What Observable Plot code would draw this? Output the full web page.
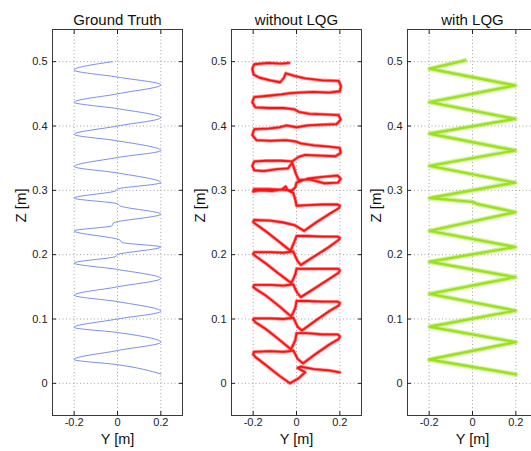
<!DOCTYPE html>
<html><head><meta charset="utf-8">
<script src="https://cdn.jsdelivr.net/npm/d3@7"></script>
<script src="https://cdn.jsdelivr.net/npm/@observablehq/plot@0.6"></script>
<style>
html,body{margin:0;padding:0;background:#fff;overflow:hidden;}
#wrap{position:relative;width:531px;height:451px;overflow:hidden;background:#fff;}
.panel{position:absolute;top:0;}
</style></head><body><div id="wrap"></div>
<script>
const titles = ["Ground Truth", "without LQG", "with LQG"];
const xTicks = [-0.2, 0, 0.2];
const zTicks = [0, 0.1, 0.2, 0.3, 0.4, 0.5];
const xLabel = "Y [m]";
const zLabel = "Z [m]";

// Ground truth trajectory [Y, Z]
const gtPath = [
  [0.200, 0.0145], [0.000, 0.029], [-0.200, 0.037], [0.000, 0.051], [0.200, 0.064],
  [0.000, 0.079], [-0.200, 0.087], [0.000, 0.100], [0.200, 0.112], [0.000, 0.127],
  [-0.200, 0.137], [0.000, 0.150], [0.200, 0.163], [0.000, 0.177], [-0.200, 0.187],
  [-0.010, 0.197], [0.000, 0.200], [0.200, 0.212], [0.020, 0.219], [0.010, 0.223],
  [-0.200, 0.237], [-0.025, 0.245], [-0.020, 0.249], [0.200, 0.263], [0.010, 0.276],
  [0.000, 0.279], [-0.200, 0.288], [-0.010, 0.299], [0.000, 0.302], [0.200, 0.312],
  [0.000, 0.327], [-0.200, 0.337], [0.000, 0.351], [0.200, 0.362], [0.000, 0.377],
  [-0.200, 0.387], [0.000, 0.400], [0.200, 0.413], [0.000, 0.427], [-0.200, 0.437],
  [0.000, 0.450], [0.200, 0.464], [0.000, 0.476], [-0.200, 0.487], [-0.023, 0.500]
];

// Measured trajectory without LQG [Y, Z]
const noLqgPath = [
  [0.200, 0.017], [0.150, 0.020], [0.080, 0.022], [0.020, 0.026], [0.005, 0.024], [0.040, 0.017], [0.010, 0.008], [-0.030, 0.000],
  [-0.080, 0.012], [-0.140, 0.028], [-0.190, 0.041], [-0.200, 0.045],
  [-0.196, 0.049], [-0.120, 0.050], [-0.060, 0.049], [-0.015, 0.051],
  [-0.005, 0.045], [0.005, 0.038], [0.030, 0.031],
  [0.090, 0.046], [0.150, 0.060], [0.195, 0.069], [0.200, 0.073],
  [0.190, 0.076], [0.120, 0.076], [0.050, 0.078], [0.000, 0.078],
  [-0.005, 0.068], [-0.015, 0.060], [-0.026, 0.053],
  [-0.080, 0.068], [-0.140, 0.084], [-0.190, 0.095], [-0.200, 0.099],
  [-0.195, 0.101], [-0.120, 0.101], [-0.060, 0.100], [-0.015, 0.102],
  [-0.005, 0.095], [0.005, 0.088], [0.025, 0.082],
  [0.090, 0.098], [0.150, 0.112], [0.195, 0.121], [0.200, 0.125],
  [0.190, 0.127], [0.120, 0.127], [0.050, 0.128], [0.000, 0.128],
  [-0.005, 0.118], [-0.015, 0.110], [-0.025, 0.104],
  [-0.080, 0.120], [-0.140, 0.136], [-0.190, 0.147], [-0.200, 0.150],
  [-0.195, 0.153], [-0.120, 0.153], [-0.060, 0.152], [-0.015, 0.154],
  [-0.005, 0.146], [0.005, 0.140], [0.020, 0.134],
  [0.090, 0.149], [0.150, 0.162], [0.195, 0.172], [0.200, 0.176],
  [0.190, 0.178], [0.120, 0.178], [0.050, 0.178], [0.000, 0.178],
  [-0.005, 0.170], [-0.015, 0.162], [-0.025, 0.156],
  [-0.080, 0.170], [-0.140, 0.186], [-0.190, 0.198], [-0.200, 0.201],
  [-0.195, 0.204], [-0.120, 0.204], [-0.060, 0.203], [-0.015, 0.205],
  [-0.005, 0.197], [0.005, 0.190], [0.020, 0.184],
  [0.090, 0.199], [0.150, 0.212], [0.195, 0.223], [0.200, 0.226],
  [0.190, 0.228], [0.120, 0.228], [0.050, 0.229], [0.000, 0.229],
  [-0.010, 0.220], [-0.020, 0.212], [-0.028, 0.206],
  [-0.080, 0.220], [-0.140, 0.236], [-0.190, 0.248], [-0.200, 0.251],
  [-0.195, 0.254], [-0.120, 0.253], [-0.060, 0.250], [-0.010, 0.246], [0.035, 0.237],
  [0.090, 0.250], [0.150, 0.263], [0.195, 0.272], [0.200, 0.276],
  [0.190, 0.278], [0.120, 0.278], [0.050, 0.277], [0.000, 0.276],
  [-0.005, 0.285], [-0.015, 0.296],
  [-0.040, 0.300], [-0.050, 0.306], [-0.065, 0.302], [-0.110, 0.299], [-0.170, 0.300], [-0.200, 0.298],
  [-0.196, 0.302], [-0.130, 0.302], [-0.070, 0.301], [-0.020, 0.300],
  [-0.005, 0.305], [0.000, 0.312],
  [0.050, 0.318], [0.120, 0.321], [0.190, 0.323], [0.204, 0.318], [0.192, 0.312], [0.130, 0.311], [0.095, 0.314], [0.060, 0.317], [0.010, 0.316],
  [-0.003, 0.326], [-0.015, 0.338], [-0.020, 0.343],
  [-0.040, 0.334], [-0.090, 0.333], [-0.150, 0.330], [-0.195, 0.331], [-0.204, 0.338], [-0.195, 0.345], [-0.140, 0.346], [-0.070, 0.346], [-0.020, 0.345],
  [0.010, 0.352], [0.040, 0.355], [0.110, 0.354], [0.180, 0.353], [0.203, 0.358], [0.200, 0.366], [0.150, 0.368], [0.080, 0.370], [0.020, 0.373], [-0.005, 0.376],
  [-0.050, 0.378], [-0.120, 0.377], [-0.185, 0.378], [-0.204, 0.386], [-0.195, 0.395], [-0.130, 0.396], [-0.080, 0.398], [-0.045, 0.401],
  [0.000, 0.398], [0.050, 0.401], [0.120, 0.402], [0.185, 0.403], [0.204, 0.410], [0.195, 0.417], [0.130, 0.418], [0.060, 0.419], [0.010, 0.422], [-0.010, 0.426],
  [-0.060, 0.428], [-0.130, 0.428], [-0.190, 0.429], [-0.204, 0.437], [-0.195, 0.445], [-0.130, 0.447], [-0.070, 0.449], [-0.030, 0.451],
  [0.010, 0.452], [0.080, 0.453], [0.150, 0.452], [0.200, 0.454], [0.205, 0.462], [0.195, 0.470], [0.120, 0.471], [0.040, 0.474], [-0.010, 0.478], [-0.050, 0.482], [-0.058, 0.475], [-0.075, 0.468],
  [-0.120, 0.471], [-0.170, 0.475], [-0.198, 0.480], [-0.204, 0.489], [-0.195, 0.496], [-0.130, 0.498], [-0.070, 0.497], [-0.034, 0.498]
];

// Measured trajectory with LQG [Y, Z]
const lqgPath = [
  [0.200, 0.014], [-0.200, 0.037], [0.200, 0.064], [-0.198, 0.088], [0.198, 0.113],
  [-0.198, 0.139], [0.197, 0.165], [-0.198, 0.189], [0.197, 0.212], [-0.198, 0.237],
  [0.197, 0.266], [0.020, 0.279], [0.000, 0.282], [-0.198, 0.288], [0.197, 0.312],
  [-0.198, 0.338], [0.197, 0.362], [-0.198, 0.388], [0.197, 0.411], [-0.198, 0.437],
  [0.197, 0.463], [-0.198, 0.489], [-0.034, 0.502]
];

const panels = [
  {title: titles[0], path: gtPath, color: "#6e7fe6", left: 0, layers: [{w: 0.9, o: 1}], curve: "monotone-y"},
  {title: titles[1], path: noLqgPath, color: "#ff1010", left: 179, layers: [{w: 3.4, o: 0.5}, {w: 1.8, o: 1}], curve: "linear"},
  {title: titles[2], path: lqgPath, color: "#9be21e", left: 355, layers: [{w: 4.8, o: 0.45}, {w: 2.4, o: 1}], curve: "linear"}
];

const fmt = d => d === 0 ? "0" : String(d);
const none = () => "";

const wrap = document.getElementById("wrap");
for (const p of panels) {
  const data = p.path.map(([y, z]) => ({y, z}));
  const chart = Plot.plot({
    width: 186, height: 451,
    marginLeft: 52, marginRight: 4, marginTop: 29, marginBottom: 36,
    style: {fontFamily: "'Liberation Sans', Arial, sans-serif", fontSize: "11px", background: "transparent", overflow: "visible", color: "#222"},
    x: {domain: [-0.3, 0.3]},
    y: {domain: [-0.05, 0.55]},
    marks: [
      Plot.gridX(xTicks, {stroke: "#9a9a9a", strokeOpacity: 0.9, strokeDasharray: "1,2.5"}),
      Plot.gridY(zTicks, {stroke: "#9a9a9a", strokeOpacity: 0.9, strokeDasharray: "1,2.5"}),
      ...p.layers.map(l => Plot.line(data, {x: "y", y: "z", stroke: p.color, strokeWidth: l.w, strokeOpacity: l.o, curve: p.curve, strokeLinejoin: "round"})),
      Plot.frame({stroke: "#3a3a3a"}),
      Plot.axisX(xTicks, {anchor: "bottom", tickSize: 0, tickPadding: 3, tickFormat: fmt, label: null}),
      Plot.axisX(xTicks, {anchor: "bottom", tickSize: -4, tickFormat: none, label: null}),
      Plot.axisX(xTicks, {anchor: "top", tickSize: -4, tickFormat: none, label: null}),
      Plot.axisY(zTicks, {anchor: "left", tickSize: 0, tickPadding: 5, tickFormat: fmt, label: null}),
      Plot.axisY(zTicks, {anchor: "left", tickSize: -4, tickFormat: none, label: null}),
      Plot.axisY(zTicks, {anchor: "right", tickSize: -4, tickFormat: none, label: null}),
      Plot.text([p.title], {text: d => d, frameAnchor: "top", dy: -15, fontSize: 15, fill: "#111"}),
      Plot.text([xLabel], {text: d => d, frameAnchor: "bottom", dy: 28, fontSize: 14.5, fill: "#111"}),
      Plot.text([zLabel], {text: d => d, frameAnchor: "left", dx: -31, rotate: -90, fontSize: 15, fill: "#111"})
    ]
  });
  chart.classList.add("panel");
  chart.style.left = p.left + "px";
  wrap.appendChild(chart);
}
</script></body></html>
